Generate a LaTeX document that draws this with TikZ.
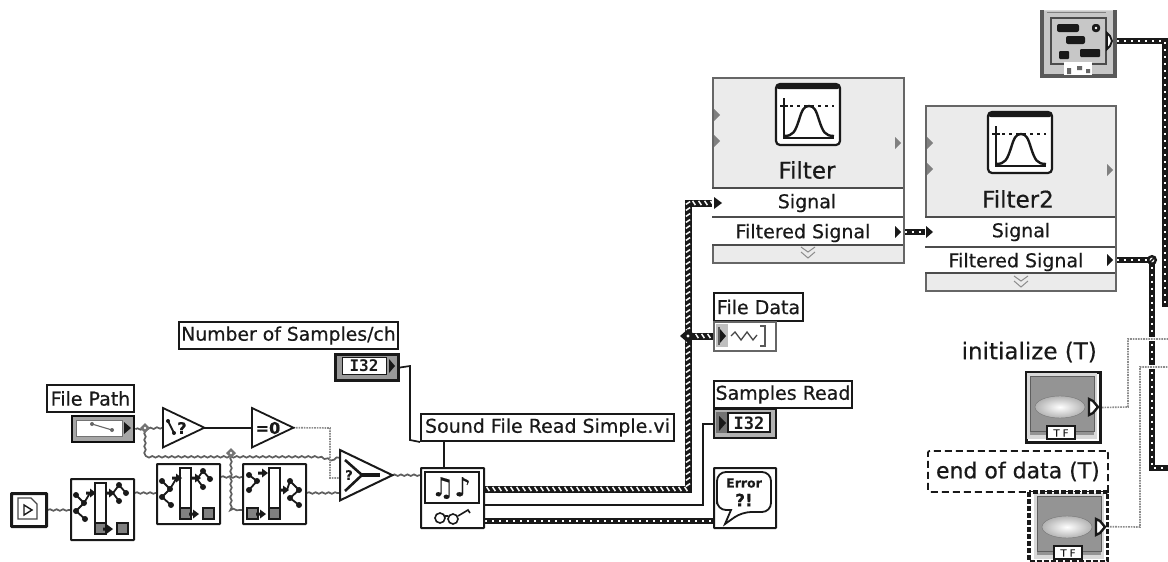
\documentclass[tikz,border=0pt]{standalone}
\usepackage{fontspec}
\setmainfont[FakeBold=0.5]{DejaVu Sans}
\setmonofont{DejaVu Sans Mono}
\usetikzlibrary{decorations.pathmorphing,decorations.markings,backgrounds}
\definecolor{pane}{gray}{0.92}
\definecolor{ink}{gray}{0.1}
\definecolor{btn}{gray}{0.58}
\tikzset{
  x=1pt,y=-1pt,
  lab/.style={draw=ink,line width=2pt,fill=white,inner sep=0pt,anchor=north west,font=\fontsize{19}{21}\selectfont,text=ink},
  fixedbox/.style={draw=ink,line width=2pt,fill=white,rounded corners=0.5pt,anchor=north west,inner sep=0pt},
  tribox/.style={inner sep=0pt,anchor=north west},
  tri/.style={draw=ink,line width=1.8pt,line join=miter},
  wavy/.style={draw=ink!70,line width=1.7pt,decorate,decoration={snake,amplitude=0.8pt,segment length=6.5pt}},
  lineWire/.style={draw=ink,line width=1.7pt},
  boolw/.style={draw=black!45,line width=1.6pt,dash pattern=on 1.6pt off 1pt},
  boolgap/.style={draw=white,line width=3.5pt},
  cluster/.style={draw=ink,line width=7pt,line join=miter,postaction={decorate},decoration={markings,mark=between positions 3pt and 1 step 6pt with {\draw[white,line width=1.5pt] (-1.4,-2.1) -- (1.4,2.1);}}},
  dotout/.style={draw=ink,line width=5.8pt,line join=miter},
  dotin/.style={draw=white,line width=1.5pt,dash pattern=on 2.2pt off 4.8pt},
  pin/.style={fill=ink,draw=none},
  greypin/.style={fill=black!50,draw=none},
  gate/.style={ink,line width=1.8pt},
}
\newcommand{\dotwire}[1]{\draw[dotout] #1; \draw[dotin] #1;}
\newcommand{\dt}[2]{\fill[ink] (#1,#2) circle (3pt);}
\newcommand{\leftset}[2]{\begin{scope}[shift={(#1,#2)}]
  \draw[gate] (6,0) -- (14,8) -- (6,16) -- (15,24);
  \dt{6}{0}\dt{14}{8}\dt{6}{16}\dt{15}{24}
  \draw[gate] (14,8) -- (20,-2);
  \end{scope}}
\newcommand{\rightset}[2]{\begin{scope}[shift={(#1,#2)}]
  \draw[gate] (0,8) -- (6,0) -- (13,8) (0,8) -- (6,16);
  \dt{6}{0}\dt{13}{8}\dt{6}{16}
  \end{scope}}
\newcommand{\smallarrow}[2]{\fill[ink] (#1-2,#2-1.5) rectangle (#1+2,#2+1.5) (#1+2,#2-4.5) -- (#1+8,#2) -- (#1+2,#2+4.5) -- cycle;}
\newcommand{\barset}[3]{%
  \draw[ink,line width=1.8pt,fill=white] (#1,5) rectangle (#1+11,56);
  \fill[black!50,draw=ink,line width=1.6pt] (#1,45) rectangle (#1+11,56);
  \fill[black!50,draw=ink,line width=1.6pt] (#2,45) rectangle (#2+11,56);
  #3}
\newcommand{\curve}[2]{%
  \begin{scope}[shift={(#1,#2)}]
  \draw[ink,line width=2.2pt,fill=white,rounded corners=4pt] (0,0) rectangle (64,61);
  \fill[ink,rounded corners=2.5pt] (0,0) rectangle (64,5);
  \draw[ink,line width=1.3pt] (8,14) -- (8,54) -- (58,54) (4,22) -- (12,22);
  \draw[ink,line width=2.4pt] (8,52) .. controls (17,52) and (19,48) .. (23,36) .. controls (26,26) and (28,22) .. (33,22) .. controls (38,22) and (40,26) .. (43,36) .. controls (47,48) and (49,52) .. (58,52);
  \draw[ink,line width=1.3pt,dash pattern=on 3pt off 4pt] (14,22) -- (58,22);
  \end{scope}}
\newcommand{\fbutton}[2]{%
  \begin{scope}[shift={(#1,#2)}]
  \fill[black!15] (2,2) rectangle (72,68);
  \fill[btn] (5,5) rectangle (69,64);
  \draw[ink!70,line width=1pt] (5,5) rectangle (69,60);
  \shade[inner color=white,outer color=black!30,draw=ink!60] (35,36) ellipse (25pt and 11pt);
  \draw[ink,line width=1.2pt,fill=white] (22,68) -- (22,55) -- (50,55) -- (50,68) -- cycle;
  \node[font=\fontsize{10}{10}\selectfont,text=ink,inner sep=0pt] (#1tf) at (36,62) {T F};
  \draw[ink,line width=2.4pt,fill=white] (64,28) -- (68,30) -- (73,36) -- (68,42) -- (64,44) -- cycle;
  \end{scope}}
\begin{document}
\begin{tikzpicture}
\useasboundingbox (0,0) rectangle (1168,562);

% ---------- nodes: left
\node[lab,font=\fontsize{18.8}{21}\selectfont,minimum width=219pt,minimum height=27pt] (nsLab) at (178,321) {Number of Samples/ch};
\node[draw=ink,line width=3pt,fill=black!40,anchor=north west,minimum width=63pt,minimum height=26pt,inner sep=0pt] (nsCtl) at (334,353) {};
\node[draw=ink,line width=1pt,fill=white,inner sep=0pt,minimum width=44pt,minimum height=17pt,font=\fontsize{16}{16}\selectfont\bfseries\ttfamily,text=ink] (nsTxt) at (364,366) {I32};
\fill[pin] (389,359) -- (395,366) -- (389,373) -- cycle;

\node[lab,minimum width=87pt,minimum height=27pt] (fpLab) at (46,384) {File Path};
\node[draw=black!40!ink,line width=2.4pt,fill=black!35,anchor=north west,minimum width=62pt,minimum height=26pt,inner sep=0pt] (fpCtl) at (71,415) {};
\draw[draw=black!55,line width=1pt,fill=white] (76,420) rectangle (122,436);
\draw[black!60,line width=1.1pt] (92,424) -- (112,430);
\fill[black!60] (92,424) circle (2pt) (112,430) circle (2pt);
\fill[pin] (124,422) -- (131,428) -- (124,434) -- cycle;

\node[tribox,minimum width=41pt,minimum height=39pt] (t1) at (163,408) {};
\draw[tri] (t1.north west) -- (t1.east) -- (t1.south west) -- cycle;
\draw[ink,line width=2pt] (168,421) -- (174,433);
\fill[ink] (168,421) circle (2pt) (174,433) circle (2pt);
\node[font=\fontsize{16}{16}\selectfont\bfseries,text=ink,inner sep=0pt] (t1q) at (182,428) {?};
\node[tribox,minimum width=41pt,minimum height=39pt] (t2) at (252,408) {};
\draw[tri] (t2.north west) -- (t2.east) -- (t2.south west) -- cycle;
\node[font=\fontsize{16}{16}\selectfont\bfseries,text=ink,inner sep=0pt] (t2q) at (268,428) {=0};

\node[fixedbox,line width=3pt,minimum width=35pt,minimum height=33pt] (fileIcon) at (10,492) {};
\draw[ink!80,line width=1.3pt,fill=white] (18,498) -- (31,498) -- (37,504) -- (37,519) -- (18,519) -- cycle;
\draw[ink,line width=1.4pt] (24,505) -- (32,510) -- (24,515) -- cycle;

\node[fixedbox,minimum width=63pt,minimum height=61pt] (box1) at (70,478) {};
\begin{scope}[shift={(70,478)}]
  \barset{25}{47}{\smallarrow{35}{51}}
  \leftset{0}{17}\smallarrow{18}{15}\smallarrow{37}{15}
  \rightset{43}{7}
\end{scope}
\node[fixedbox,minimum width=63pt,minimum height=60pt] (box2) at (156,463) {};
\begin{scope}[shift={(156,463)}]
  \barset{24}{47}{\smallarrow{35}{51}}
  \leftset{0}{18}\smallarrow{18}{15}\smallarrow{37}{15}
  \rightset{41}{8}
\end{scope}
\node[fixedbox,minimum width=63pt,minimum height=60pt] (box3) at (242,463) {};
\begin{scope}[shift={(242,463)}]
  \barset{27}{5}{\smallarrow{16}{51}}
  \draw[gate] (7,12) -- (15,18) -- (7,27); \dt{7}{12}\dt{15}{18}\dt{7}{27}
  \smallarrow{18}{10}\smallarrow{39}{27}
  \draw[gate] (45,27) -- (48,18) -- (57,27) -- (48,35) -- (57,42);
  \dt{48}{18}\dt{57}{27}\dt{48}{35}\dt{57}{42}
\end{scope}

\node[tribox,minimum width=52pt,minimum height=50pt] (sel) at (340,450) {};
\draw[tri,line width=2pt] (sel.north west) -- (sel.east) -- (sel.south west) -- cycle;
\draw[ink,line width=2.6pt] (345,460) -- (362,475) -- (345,491);
\draw[ink,line width=3.6pt] (360,475) -- (380,475);
\node[font=\fontsize{13}{13}\selectfont\bfseries,text=ink,inner sep=0pt] (selq) at (349,475) {?};

% ---------- nodes: VI and indicators
\node[lab,minimum width=253pt,minimum height=27pt] (svLab) at (420,413) {Sound File Read Simple.vi};
\node[fixedbox,minimum width=63pt,minimum height=60pt] (vi) at (420,467) {};
\draw[ink,line width=1.4pt,fill=white] (425,472) rectangle (479,503);
\node[font=\fontsize{26}{26}\selectfont,text=ink,inner sep=0pt] (notes) at (451,488) {♫♪};
\draw[ink,line width=1.6pt] (440,518) circle (5pt) (453,519) circle (5pt);
\draw[ink,line width=1.6pt] (445,516) -- (448,516) (458,516) -- (468,510) -- (470,513);

\node[lab,minimum width=89pt,minimum height=28pt] (fdLab) at (713,292) {File Data};
\node[draw=black!60,line width=1.6pt,fill=white,anchor=north west,minimum width=62pt,minimum height=29pt,inner sep=0pt] (fdCtl) at (713,321) {};
\fill[black!25] (716,324) rectangle (728,347);
\fill[pin] (720,329) -- (726,336) -- (720,343) -- cycle;
\draw[black!65,line width=1.3pt] (719,327) -- (719,345) (760,326) -- (765,326) -- (765,346) -- (760,346);
\draw[ink!80,line width=1.3pt] (731,336) -- (735,332) -- (741,340) -- (747,332) -- (753,340) -- (757,335);

\node[lab,minimum width=138pt,minimum height=27pt] (srLab) at (713,380) {Samples Read};
\node[draw=ink,line width=2pt,fill=black!30,anchor=north west,minimum width=62pt,minimum height=29pt,inner sep=0pt] (srCtl) at (713,408) {};
\fill[black!55] (716,412) rectangle (728,433);
\draw[ink,line width=1.4pt,fill=white] (728,413) rectangle (770,432);
\node[font=\fontsize{17}{17}\selectfont\bfseries\ttfamily,text=ink,inner sep=0pt] (srTxt) at (749,423) {I32};
\fill[pin] (719,416) -- (726,423) -- (719,431) -- cycle;

\node[fixedbox,minimum width=62pt,minimum height=60pt] (err) at (713,467) {};
\draw[ink,line width=1.8pt,fill=white,rounded corners=9pt] (717,495) -- (717,472) -- (771,472) -- (771,512) -- (742,512) [sharp corners] -- (725,524) -- (731,510) [rounded corners=9pt] -- (717,510) -- cycle;
\node[font=\fontsize{12.5}{13}\selectfont\bfseries,text=ink,inner sep=0pt] (errA) at (744,483) {Error};
\node[font=\fontsize{17}{17}\selectfont\bfseries,text=ink,inner sep=0pt] (errB) at (744,500) {?!};

% ---------- filters
\node[draw=black!60,line width=1.5pt,fill=pane,anchor=north west,minimum width=191pt,minimum height=185pt,inner sep=0pt] (filt) at (712,77) {};
\fill[white] (712,188) rectangle (903,245);
\draw[black!70,line width=1.5pt] (712,188) -- (903,188) (712,217) -- (903,217) (712,245) -- (903,245);
\curve{776}{84}
\node[font=\fontsize{23}{24}\selectfont,text=ink,inner sep=0pt] (fT) at (807,170) {Filter};
\node[font=\fontsize{19}{20}\selectfont,text=ink,inner sep=0pt] (fS) at (807,203) {Signal};
\node[font=\fontsize{19}{20}\selectfont,text=ink,inner sep=0pt] (fO) at (803,233) {Filtered Signal};
\fill[pin] (714,197) -- (722,203) -- (714,209) -- cycle;
\fill[pin] (895,226) -- (901,232) -- (895,238) -- cycle;
\foreach \p in {115,141} \fill[greypin] (714,\p-6) -- (720,\p) -- (714,\p+6) -- cycle;
\fill[greypin] (895,137) -- (901,143) -- (895,149) -- cycle;
\draw[black!45,line width=1pt] (801,247) -- (808,252) -- (815,247) (801,252) -- (808,258) -- (815,252);

\node[draw=black!60,line width=1.5pt,fill=pane,anchor=north west,minimum width=190pt,minimum height=185pt,inner sep=0pt] (filtb) at (925,105) {};
\fill[white] (925,217) rectangle (1115,273);
\draw[black!70,line width=1.5pt] (925,217) -- (1115,217) (925,247) -- (1115,247) (925,273) -- (1115,273);
\curve{988}{112}
\node[font=\fontsize{23}{24}\selectfont,text=ink,inner sep=0pt] (f2T) at (1018,199) {Filter2};
\node[font=\fontsize{19}{20}\selectfont,text=ink,inner sep=0pt] (f2S) at (1021,232) {Signal};
\node[font=\fontsize{19}{20}\selectfont,text=ink,inner sep=0pt] (f2O) at (1016,262) {Filtered Signal};
\fill[pin] (926,226) -- (933,232) -- (926,238) -- cycle;
\fill[pin] (1107,254) -- (1113,260) -- (1107,266) -- cycle;
\foreach \p in {143,169} \fill[greypin] (927,\p-6) -- (933,\p) -- (927,\p+6) -- cycle;
\fill[greypin] (1107,164) -- (1113,170) -- (1107,176) -- cycle;
\draw[black!45,line width=1pt] (1014,276) -- (1021,281) -- (1028,276) (1014,281) -- (1021,287) -- (1028,281);

% ---------- controls, right
\node[font=\fontsize{23}{24}\selectfont,text=ink,inner sep=0pt,anchor=east] (inLab) at (1097,352) {initialize (T)};
\node[draw=ink,line width=3pt,fill=white,anchor=north west,minimum width=74pt,minimum height=70pt,inner sep=0pt] (inBtn) at (1025,371) {};
\fbutton{1025}{371}
\node[draw=ink,line width=1.8pt,dash pattern=on 7pt off 4pt,rounded corners=2pt,inner sep=0pt,anchor=north west,minimum width=180pt,minimum height=41pt,font=\fontsize{22}{24}\selectfont,text=ink] (edLab) at (927,450) {end of data (T)};
\node[draw=none,fill=white,anchor=north west,minimum width=78pt,minimum height=69pt,inner sep=0pt] (edBtn) at (1029,492) {};
\fbutton{1032}{491}
\draw[draw=ink,line width=3.6pt,dash pattern=on 5pt off 2pt] (edBtn.north west) rectangle (edBtn.south east);

\node[draw=black!15,line width=1pt,fill=black!22,anchor=north west,minimum width=75pt,minimum height=66pt,inner sep=0pt] (topIc) at (1041,10) {};
\draw[black!65,line width=4pt] (1042,10) -- (1042,76) -- (1115,76) -- (1115,10);
\draw[black!50,line width=1pt] (1047,12) -- (1106,12);
\draw[black!70,line width=1.2pt] (1051,18) -- (1106,18) -- (1106,64) -- (1051,64) -- cycle;
\fill[ink,rounded corners=2pt] (1057,24) rectangle (1079,32);
\fill[ink,rounded corners=2pt] (1066,36) rectangle (1085,44);
\fill[ink,rounded corners=3pt] (1092,24) rectangle (1100,32);
\fill[white] (1096,28) circle (1.3pt);
\fill[ink,rounded corners=1pt] (1059,51) rectangle (1069,59);
\fill[ink,rounded corners=1pt] (1080,49) rectangle (1100,57);
\draw[ink,line width=1.8pt,fill=white] (1107,33) -- (1110,36) -- (1112,41) -- (1110,46) -- (1107,49) -- cycle;
\fill[white] (1064,62) rectangle (1092,75);
\fill[black!60] (1067,68) rectangle (1071,74) (1077,66) rectangle (1082,70) (1086,69) rectangle (1090,73);

% ---------- free ends and ports
\coordinate (offW) at (1168,339);
\coordinate (offX) at (1168,367);
\coordinate (offY) at (1168,468);
\coordinate (topEnd) at (1165,307);
\coordinate (jA) at (145,428);
\coordinate (jB) at (231,453);
\coordinate (jT) at (688,336);
\coordinate (jF) at (1152,260);
\coordinate (viA) at (vi.east |- 0,489);
\coordinate (viB) at (vi.east |- 0,505);
\coordinate (viC) at (vi.east |- 0,521);
\coordinate (b1o) at (box1.east |- 0,493);
\coordinate (b2o) at (box2.east |- 0,477);
\coordinate (b3o) at (box3.east |- 0,493);

% ---------- connectors, behind the nodes
\begin{scope}[on background layer]
\fill[white] (0,0) rectangle (1168,562);
\draw[wavy] (fileIcon.east) -- (fileIcon.east -| box1.west);
\draw[wavy] (b1o) -- (b1o -| box2.west);
\draw[wavy] (b2o) -- (b2o -| box3.west);
\draw[wavy] (b3o) -- (b3o -| sel.west);
\draw[wavy] (sel.east) -- (sel.east -| vi.west);
\draw[wavy] (fpCtl.east) -- (t1.west);
\draw[wavy] (jA) -- (jA |- jB) -- (jB) -- (318,453) -- (340,458);
\draw[wavy] (jB) -- (231,510) -- (box3.west |- 0,510);
\draw[lineWire] (t1.east) -- (t2.west);
\draw[boolw] (t2.east) -- (330,428) -- (330,478) -- (sel.west |- 0,478);
\draw[lineWire] (nsCtl.east) -- (410,366) -- (410,440) -- (svLab.south west);
\draw[lineWire] (444,440) -- (vi.north -| 444,0);
\draw[cluster] (viA) -- (688,489) -- (688,203) -- (714,203);
\draw[cluster] (jT) -- (jT -| fdCtl.west);
\draw[lineWire] (viB) -- (703,505) -- (703,424) -- (srCtl.west |- 0,424);
\dotwire{(viC) -- (viC -| err.west)}
\dotwire{(filt.east |- 0,232) -- (filtb.west |- 0,232)}
\dotwire{(filtb.east |- jF) -- (jF) -- (jF |- offY) -- (offY)}
\dotwire{(topIc.east |- 0,41) -- (1165,41) -- (topEnd)}
\draw[boolgap] (1128,339) -- (offW);
\draw[boolw] (inBtn.east) -- (1128,407) -- (1128,339) -- (offW);
\draw[boolgap] (1140,367) -- (offX);
\draw[boolw] (edBtn.east) -- (1140,527) -- (1140,367) -- (offX);
\end{scope}

% ---------- junctions
\fill[black!55] (jA) ++(-5,0) -- ++(5,-5) -- ++(5,5) -- ++(-5,5) -- cycle;
\fill[white] (jA) circle (1.4pt);
\fill[black!55] (jB) ++(-5,0) -- ++(5,-5) -- ++(5,5) -- ++(-5,5) -- cycle;
\fill[white] (jB) circle (1.4pt);
\fill[ink] (jT) ++(-8,0) -- ++(8,-7) -- ++(8,7) -- ++(-8,7) -- cycle;
\fill[white] (jT) circle (1.6pt);
\draw[ink,line width=2.4pt,fill=white] (jF) circle (3.8pt);
\draw[ink,line width=1.6pt] (1150,262) -- (1154,258);
\end{tikzpicture}
\end{document}
